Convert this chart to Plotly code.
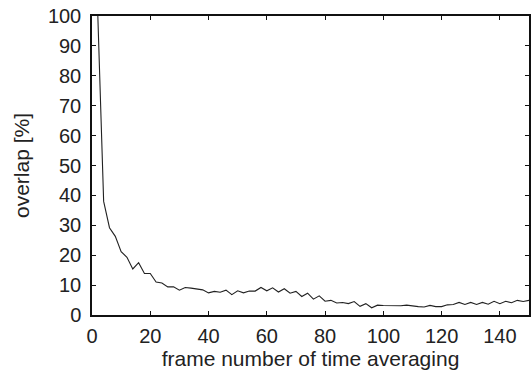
import plotly.graph_objects as go

frames = list(range(2, 151, 2))
overlap = [
    100, 38, 29.2, 26.3, 21.2, 19.3, 15.4, 17.5, 13.9, 13.9,
    11.0, 10.7, 9.4, 9.4, 8.3, 9.2, 9.0, 8.6, 8.4, 7.4,
    7.9, 7.6, 8.3, 6.8, 8.1, 7.4, 8.0, 8.0, 9.2, 8.1,
    9.1, 7.7, 8.8, 7.3, 7.9, 6.2, 7.3, 5.3, 6.4, 4.6,
    4.9, 4.0, 4.2, 3.8, 4.5, 2.9, 3.8, 2.4, 3.3, 3.2,
    3.1, 3.0, 3.1, 3.3, 3.0, 2.8, 2.7, 3.2, 2.8, 2.8,
    3.4, 3.5, 4.2, 3.5, 4.2, 3.5, 4.2, 3.6, 4.6, 3.8,
    4.6, 4.1, 4.9, 4.5, 4.9,
]
x_ticks = [0, 20, 40, 60, 80, 100, 120, 140]
y_ticks = [0, 10, 20, 30, 40, 50, 60, 70, 80, 90, 100]

fig = go.Figure()
fig.add_trace(go.Scatter(x=frames, y=overlap, mode="lines",
                         line=dict(color="#222222", width=1.1),
                         showlegend=False))

axis_common = dict(showline=True, linecolor="#111111", linewidth=1.5,
                   mirror="ticks", ticks="inside", ticklen=4,
                   tickcolor="#111111", tickwidth=1, showgrid=False,
                   zeroline=False,
                   tickfont=dict(family="Liberation Sans", size=20, color="#222222"),
                   title_font=dict(family="Liberation Sans", size=21, color="#222222"))

fig.update_xaxes(range=[0, 150], tickvals=x_ticks,
                 title_text="frame number of time averaging",
                 ticklabelstandoff=2,
                 title_standoff=2, **axis_common)
fig.update_yaxes(range=[0, 100], tickvals=y_ticks,
                 title_text="overlap [%]", ticklabelstandoff=5,
                 title_standoff=13, **axis_common)

fig.update_layout(width=531, height=376,
                  margin=dict(l=92, r=0, t=16, b=61),
                  plot_bgcolor="white", paper_bgcolor="white")

fig.write_html("out.html")
